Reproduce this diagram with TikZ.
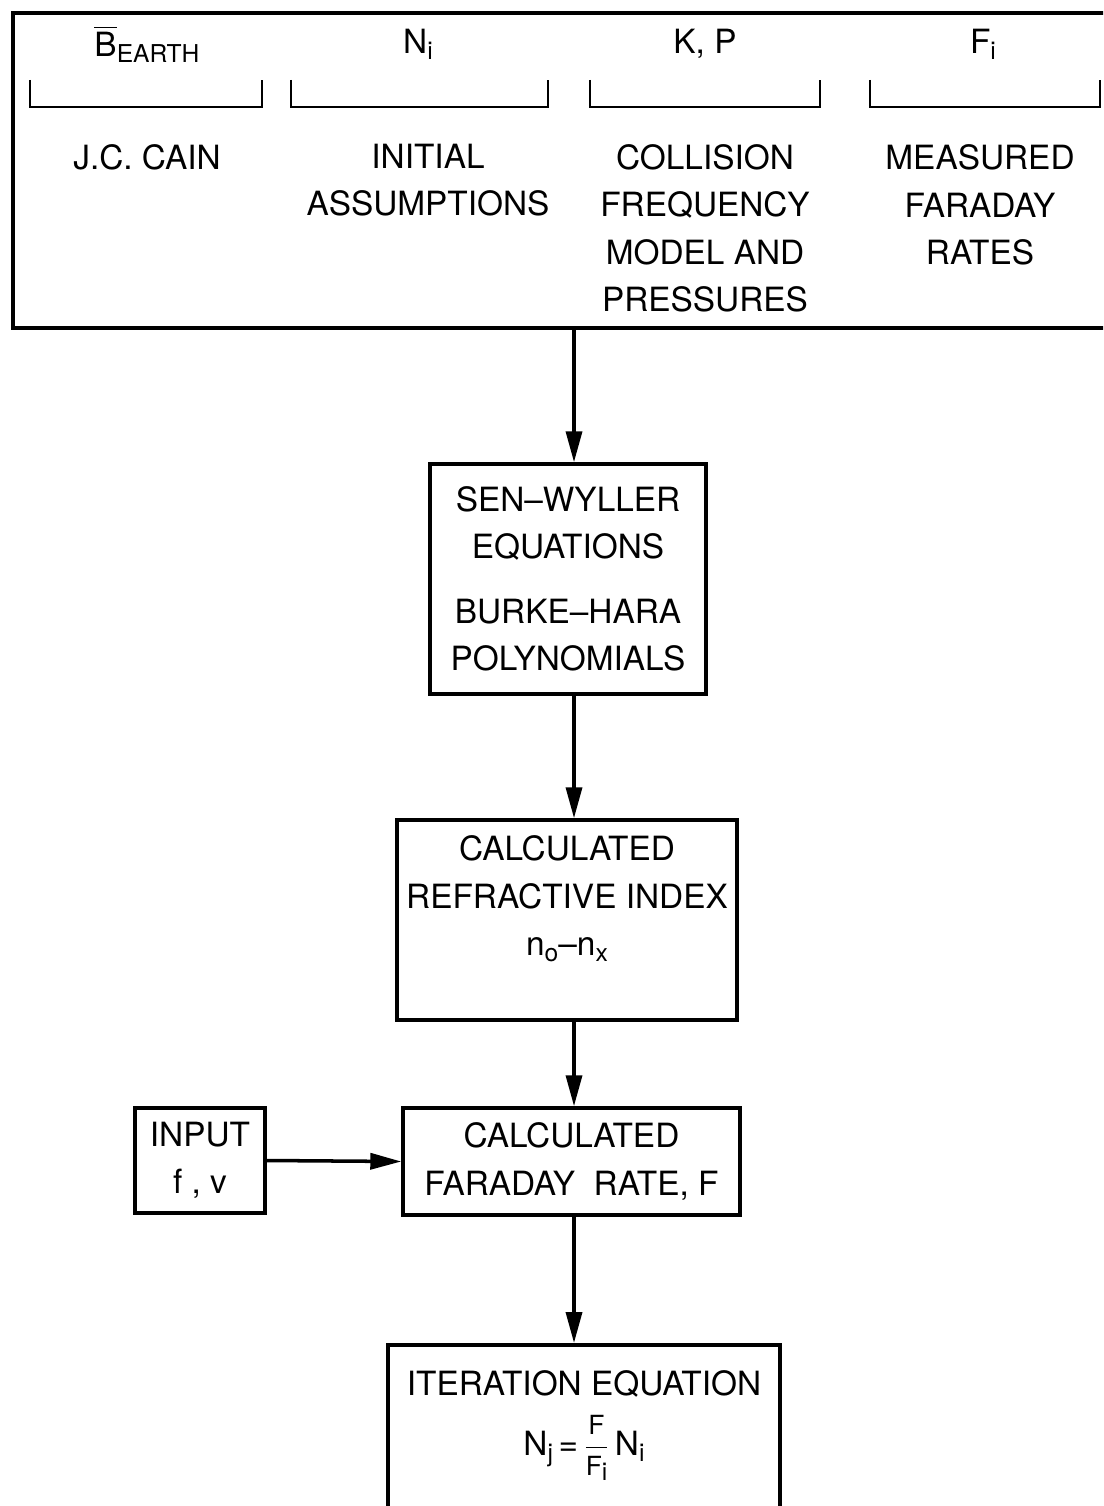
\documentclass[tikz,border=0pt]{standalone}
\usepackage{amsmath}
\usepackage{fontspec}
\setmainfont{TeX Gyre Heros}
\usetikzlibrary{arrows.meta, calc}

\newcommand{\lowidx}[1]{\raisebox{-0.35ex}{\fontsize{14}{14}\selectfont #1}}
\newcommand{\fracpart}[1]{\text{\fontsize{15}{15}\selectfont #1}}

\begin{document}
\begin{tikzpicture}[
    x=0.02cm, y=-0.02cm, % one unit is one pixel of the scan
    every node/.style={font=\fontsize{19}{27}\selectfont, align=center},
    stage/.style={draw, line width=2pt, inner sep=0pt},
    flow/.style={-{Triangle[length=0.62cm, width=0.32cm]}, line width=2pt},
    bracket/.style={line width=1.6pt}
]
    \useasboundingbox (0,0) rectangle (1103,1506);
    \clip (0,0) rectangle (1103,1506);

    % the block of inputs
    \node (inputs) [stage, minimum width=22.2cm, minimum height=6.3cm] at (568,170.5) {};
    \node (bearth) at (147,44) {$\overline{\mbox{B}}$\lowidx{EARTH}};
    \node (ni) at (418,44) {N\lowidx{i}};
    \node (kp) at (705,44) {K, P};
    \node (fi) at (983,44) {F\lowidx{i}};
    \foreach \l/\r in {30/262, 291/548, 590/820, 870/1100}
        \draw [bracket] (\l,80) |- (\r,107) -- (\r,80);
    \node (cain) at (147,157) {J.C. CAIN};
    \node (initial) at (428,180) {INITIAL\\ASSUMPTIONS};
    \node (collision) at (705,228.5) {COLLISION\\FREQUENCY\\MODEL AND\\PRESSURES};
    \node (measured) at (980,205) {MEASURED\\FARADAY\\RATES};

    % the chain of calculations
    \node (senwyller) [stage, minimum width=5.52cm, minimum height=4.6cm] at (568,579)
        {SEN--WYLLER\\EQUATIONS\\[0.34cm]BURKE--HARA\\POLYNOMIALS};
    \node (refbox) [stage, minimum width=6.8cm, minimum height=4cm] at (567,920) {};
    \node (reftext) at (567,899) {CALCULATED\\REFRACTIVE INDEX\\n\lowidx{o}--n\lowidx{x}};
    \node (faraday) [stage, minimum width=6.74cm, minimum height=2.14cm] at (571.5,1161.5)
        {CALCULATED\\FARADAY\ \ RATE, F};
    \node (input) [stage, minimum width=2.6cm, minimum height=2.1cm] at (200,1160.5) {INPUT\\f , v};
    \node (iterbox) [stage, minimum width=7.84cm, minimum height=4cm, anchor=north] at (584,1343) {};
    \node (itertext) [anchor=north] at (584,1364)
        {ITERATION EQUATION\\[0.25cm]N\lowidx{j}\,=\,$\dfrac{\fracpart{F}}{\fracpart{F\lowidx{i}}}$\,N\lowidx{i}};

    % connectors
    \coordinate (spine) at (574,0);
    \draw [flow] (inputs.south -| spine) -- (senwyller.north -| spine);
    \draw [flow] (senwyller.south -| spine) -- (refbox.north -| spine);
    \draw [flow] (refbox.south -| spine) -- (faraday.north -| spine);
    \draw [flow] (faraday.south -| spine) -- (iterbox.north -| spine);
    \draw [flow] (input.east) -- (faraday.west);
\end{tikzpicture}
\end{document}
